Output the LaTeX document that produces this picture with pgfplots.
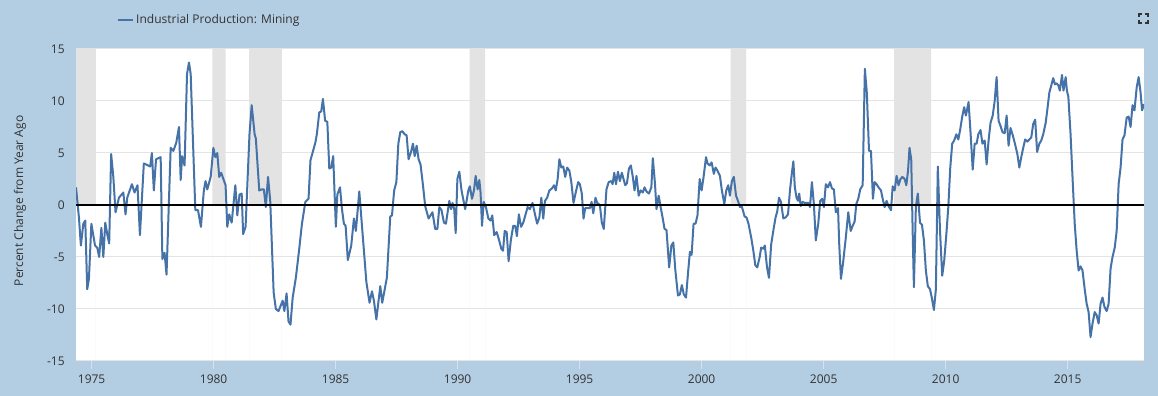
\documentclass[border=0pt]{standalone}
\usepackage{pgfplots}
\pgfplotsset{compat=1.18}
\usepackage{fontspec}
\setmainfont{Open Sans}
\definecolor{bgblue}{HTML}{B3CDE3}
\definecolor{linec}{HTML}{4572A7}
\definecolor{recc}{HTML}{E3E3E3}
\definecolor{gridc}{HTML}{E4E4E4}
\definecolor{tickc}{HTML}{D6E3EF}
\definecolor{labelc}{HTML}{333333}
\pgfplotstableread{
x y
1974.36 1.7
1974.48 -1.2
1974.56 -3.9
1974.66 -1.8
1974.74 -1.5
1974.82 -8.1
1974.89 -7.1
1974.99 -1.8
1975.14 -3.9
1975.23 -4.1
1975.31 -5.0
1975.40 -2.2
1975.48 -5.0
1975.56 -1.7
1975.64 -2.8
1975.72 -3.7
1975.80 4.9
1975.89 2.7
1975.98 -0.7
1976.12 0.7
1976.30 1.2
1976.39 -0.9
1976.46 0.7
1976.65 2.0
1976.76 1.2
1976.88 1.9
1976.98 -2.9
1977.14 4.0
1977.31 3.8
1977.40 3.7
1977.47 5.0
1977.55 1.4
1977.64 4.4
1977.83 4.6
1977.90 -5.2
1977.99 -4.6
1978.07 -6.7
1978.24 5.5
1978.35 5.2
1978.47 6.0
1978.58 7.5
1978.65 2.4
1978.71 4.7
1978.81 3.8
1978.91 12.6
1978.99 13.7
1979.06 12.6
1979.25 -0.5
1979.36 -0.5
1979.48 -2.1
1979.60 1.4
1979.67 2.3
1979.74 1.5
1979.88 2.7
1979.99 5.5
1980.07 4.6
1980.15 5.0
1980.23 2.7
1980.31 3.1
1980.49 1.9
1980.56 -2.1
1980.64 -0.9
1980.74 -1.7
1980.89 1.9
1980.97 -1.0
1981.06 1.0
1981.15 1.1
1981.21 -2.8
1981.31 -2.1
1981.47 6.8
1981.56 9.6
1981.68 6.8
1981.73 6.4
1981.87 1.4
1981.98 1.5
1982.06 1.5
1982.14 -0.2
1982.23 2.7
1982.32 0.4
1982.46 -8.4
1982.55 -10.0
1982.66 -10.2
1982.83 -9.2
1982.90 -10.2
1982.99 -8.5
1983.07 -11.2
1983.15 -11.5
1983.24 -8.9
1983.37 -7.0
1983.51 -4.2
1983.62 -1.8
1983.76 0.3
1983.89 0.6
1983.97 4.3
1984.17 6.0
1984.23 6.8
1984.33 8.9
1984.41 9.0
1984.48 10.2
1984.57 8.1
1984.66 8.0
1984.74 3.5
1984.82 3.6
1984.90 4.7
1985.01 -2.1
1985.07 1.0
1985.18 1.7
1985.26 -0.4
1985.34 -1.8
1985.41 -2.0
1985.50 -5.3
1985.64 -3.9
1985.75 -1.3
1985.83 -2.5
1985.97 1.3
1986.08 -2.0
1986.26 -7.4
1986.39 -9.4
1986.49 -8.3
1986.57 -9.2
1986.67 -11.0
1986.83 -7.8
1986.91 -9.4
1987.10 -7.0
1987.24 -1.1
1987.31 -1.0
1987.40 1.4
1987.49 2.2
1987.57 5.9
1987.65 7.0
1987.73 7.1
1987.83 6.8
1987.91 6.7
1987.99 4.4
1988.09 5.1
1988.17 5.9
1988.24 4.7
1988.32 5.7
1988.40 4.4
1988.48 3.9
1988.58 1.9
1988.67 -0.1
1988.81 -1.3
1988.97 -0.7
1989.08 -2.3
1989.17 -2.3
1989.25 -0.2
1989.34 -0.5
1989.44 -1.7
1989.52 -1.8
1989.66 0.4
1989.73 -0.4
1989.79 0.2
1989.86 -0.4
1989.92 -2.7
1989.99 2.5
1990.07 3.2
1990.16 1.4
1990.31 -0.4
1990.44 1.4
1990.50 1.8
1990.59 0.6
1990.67 1.4
1990.74 2.8
1990.82 1.5
1990.89 2.4
1990.94 1.2
1991.00 -2.0
1991.07 0.3
1991.16 -0.2
1991.26 -1.3
1991.35 -1.5
1991.42 -1.0
1991.50 -2.9
1991.60 -2.6
1991.69 -3.3
1991.79 -4.2
1991.86 -4.4
1991.93 -2.5
1992.01 -2.6
1992.09 -5.4
1992.18 -3.4
1992.28 -2.0
1992.36 -2.0
1992.43 -3.0
1992.51 -0.9
1992.60 -2.1
1992.69 -1.7
1992.87 -0.2
1992.96 -0.4
1993.07 0.2
1993.17 -0.9
1993.26 -1.8
1993.35 -1.2
1993.43 0.7
1993.51 -1.3
1993.58 0.4
1993.67 0.7
1993.76 1.4
1993.87 1.6
1993.95 1.9
1994.02 1.4
1994.10 2.5
1994.17 4.4
1994.25 3.6
1994.33 3.7
1994.41 2.7
1994.49 3.6
1994.58 3.3
1994.66 2.2
1994.75 0.2
1994.84 1.2
1994.94 2.2
1995.01 2.0
1995.09 1.1
1995.16 -1.3
1995.23 -0.3
1995.34 -0.3
1995.42 -0.3
1995.49 0.3
1995.56 -0.8
1995.65 0.7
1995.72 0.2
1995.83 0.0
1995.91 -1.7
1995.99 -2.3
1996.10 1.5
1996.19 2.2
1996.30 2.3
1996.35 2.0
1996.42 3.1
1996.49 2.0
1996.57 3.2
1996.65 2.3
1996.73 3.1
1996.80 2.5
1996.87 1.9
1996.94 2.1
1997.02 3.5
1997.10 3.8
1997.18 2.7
1997.25 1.4
1997.33 2.8
1997.42 0.9
1997.50 1.4
1997.59 1.2
1997.66 1.7
1997.74 1.3
1997.84 1.1
1997.94 1.7
1998.00 4.5
1998.09 2.0
1998.15 -0.4
1998.24 0.9
1998.32 -0.2
1998.40 -1.2
1998.48 -2.3
1998.56 -2.4
1998.67 -6.0
1998.76 -3.9
1998.84 -3.6
1998.92 -6.2
1999.03 -8.7
1999.11 -8.6
1999.19 -7.7
1999.27 -8.6
1999.36 -8.9
1999.44 -6.6
1999.52 -4.5
1999.59 -4.8
1999.67 -1.8
1999.75 -1.8
1999.83 -1.0
1999.92 2.5
2000.00 1.4
2000.08 2.7
2000.18 4.6
2000.24 4.0
2000.33 3.8
2000.41 4.1
2000.50 3.0
2000.57 3.6
2000.65 3.3
2000.75 2.8
2000.83 1.4
2000.93 0.1
2001.01 1.4
2001.09 1.9
2001.16 0.9
2001.24 2.3
2001.32 2.7
2001.41 0.9
2001.49 0.4
2001.57 -0.2
2001.64 -0.1
2001.69 -0.5
2001.76 -1.1
2001.84 -1.2
2001.92 -1.8
2002.03 -3.1
2002.12 -4.4
2002.20 -5.8
2002.28 -6.0
2002.38 -5.0
2002.44 -4.1
2002.53 -4.2
2002.59 -3.9
2002.68 -6.0
2002.76 -7.0
2002.85 -3.8
2002.95 -2.3
2003.03 -1.2
2003.10 -0.6
2003.17 0.7
2003.25 0.3
2003.35 -1.3
2003.44 -1.2
2003.54 -0.9
2003.62 1.4
2003.70 3.1
2003.76 4.2
2003.82 1.7
2003.89 0.7
2003.95 0.4
2004.00 1.1
2004.06 -0.1
2004.14 0.3
2004.22 0.2
2004.30 0.2
2004.38 0.2
2004.44 -0.2
2004.52 2.2
2004.60 0.1
2004.68 -3.4
2004.78 -1.8
2004.86 0.4
2004.94 0.6
2005.01 -0.2
2005.09 2.0
2005.18 1.7
2005.26 2.2
2005.34 1.6
2005.42 1.5
2005.50 -0.7
2005.59 -0.3
2005.64 -3.8
2005.71 -7.1
2005.80 -5.5
2005.91 -3.1
2006.01 -0.7
2006.11 -2.5
2006.19 -2.0
2006.27 -1.6
2006.34 0.1
2006.42 0.6
2006.50 1.5
2006.60 1.9
2006.69 13.1
2006.77 10.8
2006.86 5.2
2006.94 5.2
2007.02 0.6
2007.09 2.2
2007.17 2.0
2007.25 1.7
2007.35 1.4
2007.42 0.6
2007.50 -0.2
2007.58 0.4
2007.66 -0.1
2007.76 -0.5
2007.83 1.8
2007.91 1.4
2007.99 2.8
2008.07 1.9
2008.15 2.5
2008.23 2.7
2008.32 2.5
2008.39 1.9
2008.46 3.3
2008.52 5.5
2008.59 4.4
2008.66 -3.8
2008.70 -7.9
2008.78 -0.2
2008.86 1.1
2008.95 -1.7
2009.03 -1.9
2009.11 -3.4
2009.19 -6.3
2009.27 -7.8
2009.36 -8.1
2009.44 -9.0
2009.52 -10.1
2009.60 -8.1
2009.68 3.7
2009.77 -2.5
2009.86 -6.8
2009.94 -5.4
2010.03 -2.8
2010.11 -0.2
2010.19 3.6
2010.27 5.9
2010.35 6.2
2010.44 6.8
2010.52 6.3
2010.60 7.3
2010.68 8.5
2010.76 9.4
2010.83 8.6
2010.94 9.9
2011.02 7.0
2011.11 3.4
2011.19 5.9
2011.27 5.9
2011.34 6.8
2011.43 7.2
2011.51 5.9
2011.60 6.2
2011.68 3.9
2011.76 6.2
2011.84 7.9
2011.93 8.6
2012.01 10.0
2012.09 12.3
2012.17 8.1
2012.25 7.6
2012.33 7.0
2012.42 6.9
2012.50 8.6
2012.58 5.7
2012.66 7.4
2012.74 6.8
2012.83 6.0
2012.94 4.9
2013.02 3.6
2013.10 4.6
2013.18 5.5
2013.26 6.3
2013.35 6.1
2013.43 6.3
2013.51 6.5
2013.59 7.8
2013.67 8.2
2013.75 5.1
2013.84 5.9
2013.92 6.2
2014.00 6.8
2014.10 7.9
2014.17 9.2
2014.25 10.8
2014.33 11.5
2014.41 12.2
2014.48 11.6
2014.55 11.7
2014.62 11.5
2014.68 11.0
2014.77 12.5
2014.83 11.0
2014.92 12.3
2014.97 11.0
2015.03 10.4
2015.12 6.8
2015.20 2.7
2015.29 -1.8
2015.37 -4.4
2015.45 -6.3
2015.53 -5.9
2015.61 -6.3
2015.70 -8.1
2015.78 -9.5
2015.86 -10.3
2015.94 -12.7
2016.02 -11.4
2016.11 -10.3
2016.19 -10.6
2016.27 -11.4
2016.35 -9.5
2016.43 -8.9
2016.51 -9.8
2016.60 -10.2
2016.68 -9.5
2016.76 -6.1
2016.84 -5.0
2016.93 -4.1
2017.01 -2.5
2017.09 2.0
2017.17 3.6
2017.25 6.3
2017.33 6.7
2017.42 8.4
2017.50 8.5
2017.58 7.5
2017.66 9.6
2017.74 9.1
2017.83 11.3
2017.91 12.3
2017.99 10.8
2018.05 9.1
2018.13 9.7
}\datatable
\begin{document}
\begin{tikzpicture}
\fill[bgblue] (0,0) rectangle (868.5pt,297pt);
% fullscreen icon
\begin{scope}[draw=labelc, line width=0.9pt]
\draw (854.25pt,284.25pt) -- (854.25pt,286.5pt) -- (856.5pt,286.5pt);
\draw (858.75pt,286.5pt) -- (861pt,286.5pt) -- (861pt,284.25pt);
\draw (854.25pt,282pt) -- (854.25pt,279.75pt) -- (856.5pt,279.75pt);
\draw (858.75pt,279.75pt) -- (861pt,279.75pt) -- (861pt,282pt);
\end{scope}
\begin{axis}[
  at={(57pt,26.25pt)}, anchor=south west,
  scale only axis, width=801pt, height=234pt,
  xmin=1974.36, xmax=2018.13, ymin=-15, ymax=15,
  axis lines*=left, axis line style={draw=none},
  axis background/.style={fill=white},
  ytick={-15,-10,...,15}, xtick={1975,1980,...,2015},
  ymajorgrids, grid style={draw=gridc, line width=0.75pt},
  ytick style={draw=none},
  xtick style={draw=tickc, line width=0.75pt},
  xtick align=outside, major tick length=6pt,
  tick label style={font=\fontsize{9}{11}\selectfont, text=labelc},
  yticklabel style={xshift=-5pt},
  xticklabel style={yshift=-1pt},
  /pgf/number format/assume math mode=true,
  /pgf/number format/1000 sep={},
  ylabel={Percent Change from Year Ago},
  ylabel style={at={(axis description cs:-0.0524,0.513)}, anchor=center, font=\fontsize{9}{11}\selectfont, text=labelc},
  legend style={at={(axis description cs:0.034,1.093)}, anchor=west, draw=none, fill=none, font=\fontsize{9}{11}\selectfont, text=labelc},
  legend image code/.code={\draw[#1] (0pt,0pt) -- (11.25pt,0pt);},
]
\addplot[fill=recc, draw=none, forget plot] coordinates {(1973.9,-15) (1973.9,15) (1975.17,15) (1975.17,-15)} \closedcycle;
\addplot[fill=recc, draw=none, forget plot] coordinates {(1979.95,-15) (1979.95,15) (1980.49,15) (1980.49,-15)} \closedcycle;
\addplot[fill=recc, draw=none, forget plot] coordinates {(1981.46,-15) (1981.46,15) (1982.80,15) (1982.80,-15)} \closedcycle;
\addplot[fill=recc, draw=none, forget plot] coordinates {(1990.49,-15) (1990.49,15) (1991.13,15) (1991.13,-15)} \closedcycle;
\addplot[fill=recc, draw=none, forget plot] coordinates {(2001.19,-15) (2001.19,15) (2001.82,15) (2001.82,-15)} \closedcycle;
\addplot[fill=recc, draw=none, forget plot] coordinates {(2007.89,-15) (2007.89,15) (2009.41,15) (2009.41,-15)} \closedcycle;
\addplot[color=linec, line width=1.5pt, line join=round] table[x=x,y=y] {\datatable};
\addlegendentry{Industrial Production: Mining}
\addplot[black, line width=1.6pt, forget plot] coordinates {(1974.36,0) (2018.13,0)};
\end{axis}
\end{tikzpicture}
\end{document}
